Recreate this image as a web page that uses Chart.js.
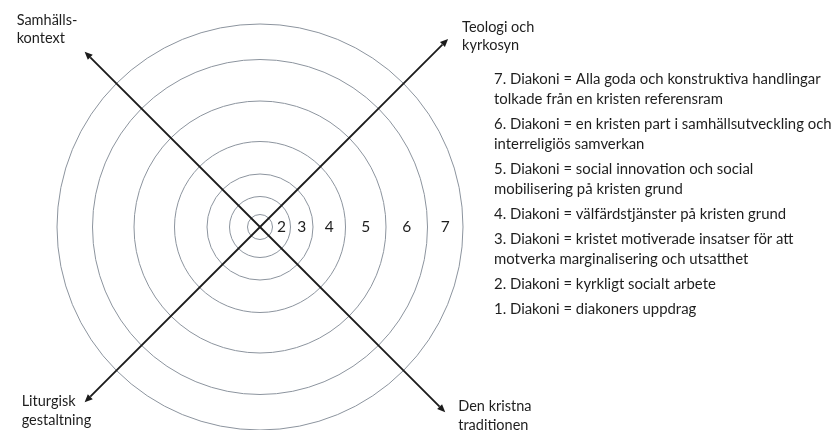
<!DOCTYPE html>
<html lang="sv">
<head>
<meta charset="utf-8">
<title>Diakoni – cirkelmodell</title>
<script src="https://cdn.jsdelivr.net/npm/chart.js@4.4.1/dist/chart.umd.min.js"></script>
<style>
  html, body { margin: 0; padding: 0; background: #ffffff; }
  #wrap { width: 835px; height: 430px; position: relative; }
</style>
</head>
<body>
<div id="wrap"><canvas id="c" width="835" height="430"></canvas></div>
<script>
// ---- data ----
const axisLabels = [
  ["Samhälls-", "kontext"],
  ["Teologi och", "kyrkosyn"],
  ["Den kristna", "traditionen"],
  ["Liturgisk", "gestaltning"]
];
// outer boundary of each ring (radial scale units), ring 1 = innermost
const ringBounds = [12.5, 30.5, 53, 85.5, 126, 167.5, 203];
const ringLabels = ["", "2", "3", "4", "5", "6", "7"];
// how far each arrow reaches (radial scale units)
const arrowReach = [248, 266, 262, 248];
const legendItems = [
  ["7. Diakoni = Alla goda och konstruktiva handlingar", "tolkade från en kristen referensram"],
  ["6. Diakoni = en kristen part i samhällsutveckling och", "interreligiös samverkan"],
  ["5. Diakoni = social innovation och social", "mobilisering på kristen grund"],
  ["4. Diakoni = välfärdstjänster på kristen grund"],
  ["3. Diakoni = kristet motiverade insatser för att", "motverka marginalisering och utsatthet"],
  ["2. Diakoni = kyrkligt socialt arbete"],
  ["1. Diakoni = diakoners uppdrag"]
];

const FONT = 'Lato, "Open Sans", sans-serif';
const TEXT = '#1e1e1e';

const diagramPlugin = {
  id: 'diagram',
  afterDraw(chart) {
    const s = chart.scales.r;
    const ctx = chart.ctx;
    ctx.save();
    // arrows
    const tips = [];
    ctx.strokeStyle = '#1b1b1b';
    ctx.fillStyle = '#1b1b1b';
    ctx.lineWidth = 1.8;
    for (let i = 0; i < axisLabels.length; i++) {
      const p = s.getPointPosition(i, s.getDistanceFromCenterForValue(arrowReach[i]));
      tips.push(p);
      const ang = Math.atan2(p.y - s.yCenter, p.x - s.xCenter);
      const head = 8, half = 3.5;
      const bx = p.x - head * Math.cos(ang), by = p.y - head * Math.sin(ang);
      ctx.beginPath();
      ctx.moveTo(s.xCenter, s.yCenter);
      ctx.lineTo(bx, by);
      ctx.stroke();
      ctx.beginPath();
      ctx.moveTo(p.x, p.y);
      ctx.lineTo(bx + half * Math.sin(ang), by - half * Math.cos(ang));
      ctx.lineTo(bx - half * Math.sin(ang), by + half * Math.cos(ang));
      ctx.closePath();
      ctx.fill();
    }
    // axis (corner) labels placed relative to arrow tips
    ctx.fillStyle = TEXT;
    ctx.font = '14.5px ' + FONT;
    ctx.textAlign = 'left';
    ctx.textBaseline = 'alphabetic';
    const offs = [[-68, -27], [14, -7], [13, -1], [-63, 4]];
    const lh = 18.5;
    axisLabels.forEach((lines, i) => {
      lines.forEach((t, k) => {
        ctx.fillText(t, tips[i].x + offs[i][0], tips[i].y + offs[i][1] + k * lh);
      });
    });
    // ring numbers, centred in each ring on the right horizontal
    ctx.font = '15.5px ' + FONT;
    ctx.textAlign = 'center';
    ctx.textBaseline = 'middle';
    ringLabels.forEach((t, i) => {
      if (!t) return;
      const inner = i === 0 ? 0 : ringBounds[i - 1];
      const mid = (inner + ringBounds[i]) / 2;
      ctx.fillText(t, s.xCenter + s.getDistanceFromCenterForValue(mid), s.yCenter);
    });
    // legend text
    ctx.font = '14.9px ' + FONT;
    ctx.textAlign = 'left';
    ctx.textBaseline = 'middle';
    let y = 79;
    const lx = 494, lineH = 20, gap = 5;
    legendItems.forEach(lines => {
      lines.forEach(t => { ctx.fillText(t, lx, y); y += lineH; });
      y += gap;
    });
    ctx.restore();
  }
};

new Chart(document.getElementById('c'), {
  type: 'radar',
  data: {
    labels: axisLabels,
    datasets: [{ data: [0, 0, 0, 0], pointRadius: 0, borderWidth: 0, backgroundColor: 'transparent' }]
  },
  options: {
    responsive: false,
    animation: false,
    devicePixelRatio: 1,
    layout: { padding: { left: 57, right: 372, top: 24, bottom: 0 } },
    plugins: { legend: { display: false }, tooltip: { enabled: false } },
    scales: {
      r: {
        min: 0,
        max: ringBounds[ringBounds.length - 1],
        startAngle: -45,
        afterBuildTicks: (scale) => {
          scale.ticks = [0].concat(ringBounds).map(v => ({ value: v }));
        },
        ticks: { display: false },
        pointLabels: { display: false },
        angleLines: { display: false },
        grid: { circular: true, color: '#8c949e', lineWidth: 1 }
      }
    }
  },
  plugins: [diagramPlugin]
});
</script>
</body>
</html>
